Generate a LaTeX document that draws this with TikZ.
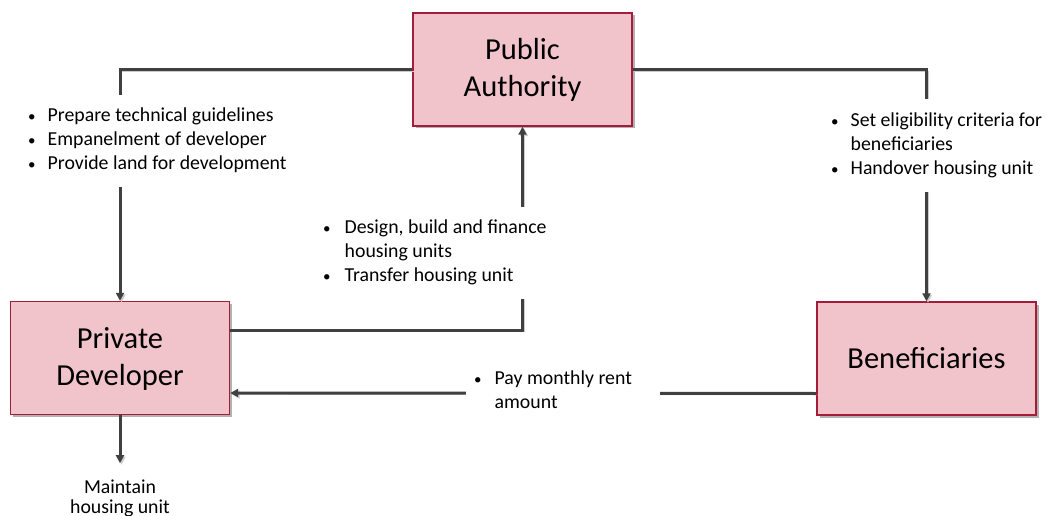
\documentclass[tikz,border=0pt]{standalone}
\usepackage{fontspec}
\setmainfont{Carlito}
\usepackage{xcolor}
\usetikzlibrary{arrows.meta,shadows}
\definecolor{boxpink}{RGB}{241,196,203}
\definecolor{boxred}{RGB}{165,28,58}
\definecolor{flowgray}{RGB}{64,64,64}

\begin{document}
\begin{tikzpicture}[x=1pt,y=-1pt,
    party/.style={draw=boxred, fill=boxpink, line width=1.4pt, align=center,
        minimum width=219pt, minimum height=113pt, font=\fontsize{30.5}{37}\selectfont,
        drop shadow={shadow xshift=2.5pt, shadow yshift=-2.5pt, fill=gray!60, opacity=1}},
    flow/.style={draw=flowgray, line width=3pt, -{Triangle[length=8pt,width=8pt]},
        preaction={draw=gray!40, transform canvas={xshift=1.5pt, yshift=-1.5pt}}},
    note/.style={fill=white, inner xsep=6pt, inner ysep=10pt, font=\fontsize{19.8}{24}\selectfont}]
\useasboundingbox (0,0) rectangle (1047,516);
\newcommand{\blt}{{\fontsize{15}{15}\selectfont\textbullet}}

% the three parties
\node[party] (pa) at (522.5,69.5) {\rule{0pt}{22pt}Public\\Authority};
\node[party] (pd) at (120,358) {\rule{0pt}{22pt}Private\\Developer};
\node[party] (ben) at (926.5,358.5) {Beneficiaries};

% connectors
\draw[flow] (pa.west) -| (pd.north);
\draw[flow] (pa.east) -| (ben.north);
\draw[flow] ([yshift=28pt]pd.east) -| (pa.south);
\draw[flow] ([yshift=-35pt]ben.west) -- ([yshift=-35pt]pd.east);
\draw[flow] (pd.south) -- ++(0,48) coordinate (mnt);

% texts on the connectors
\node[note, anchor=west] (guide) at (22,141) {\begin{tabular}{@{}l@{\hspace{12pt}}l@{}}
    \blt & Prepare technical guidelines\\
    \blt & Empanelment of developer\\
    \blt & Provide land for development
\end{tabular}};
\node[note, anchor=west] (design) at (317,253) {\begin{tabular}{@{}l@{\hspace{14pt}}l@{}}
    \blt & Design, build and finance\\
         & housing units\\
    \blt & Transfer housing unit
\end{tabular}};
\node[note, anchor=west] (crit) at (825,145.5) {\begin{tabular}{@{}l@{\hspace{12pt}}l@{}}
    \blt & Set eligibility criteria for\\
         & beneficiaries\\
    \blt & Handover housing unit
\end{tabular}};
\node[note, anchor=west, inner xsep=8pt] (rent) at (466,392) {\begin{tabular}{@{}l@{\hspace{13pt}}l@{}}
    \blt & Pay monthly rent\\
         & amount
\end{tabular}\kern20pt};
\node[anchor=north, align=center, inner sep=0pt, font=\fontsize{19.8}{20}\selectfont]
    (maint) at ([yshift=-16pt]mnt) {Maintain\\housing unit};
\end{tikzpicture}
\end{document}
